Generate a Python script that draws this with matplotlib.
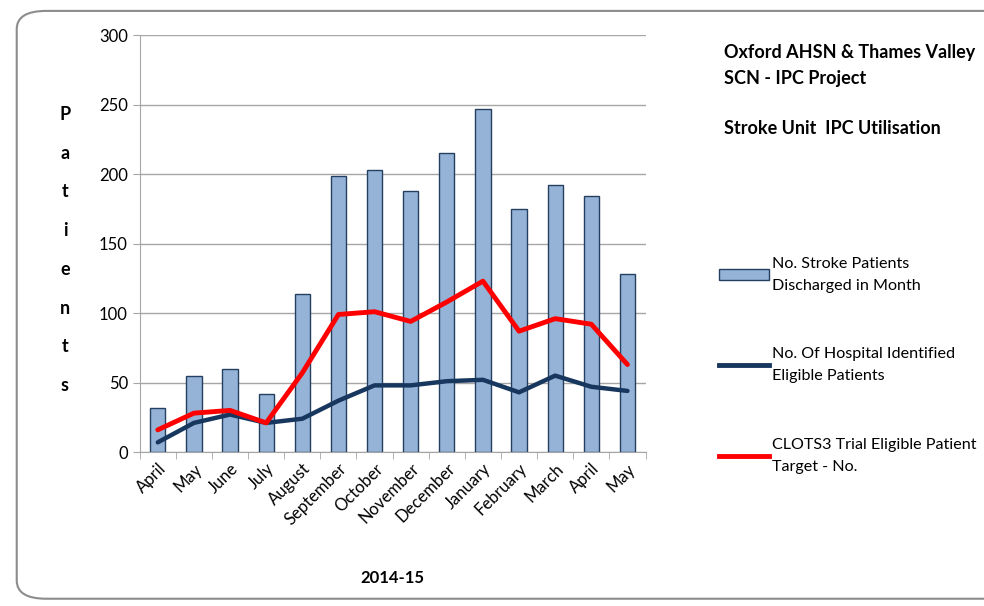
import numpy as np
import matplotlib.pyplot as plt
from matplotlib.patches import FancyBboxPatch
from matplotlib.lines import Line2D
from matplotlib.patches import Patch

plt.rcParams['font.family'] = ['Lato', 'DejaVu Sans']

months = ["April", "May", "June", "July", "August", "September", "October",
          "November", "December", "January", "February", "March", "April", "May"]
discharged = [32, 55, 60, 42, 114, 199, 203, 188, 215, 247, 175, 192, 184, 128]
identified = [7, 21, 27, 21, 24, 37, 48, 48, 51, 52, 43, 55, 47, 44]
target = [16, 28, 30, 21, 57, 99, 101, 94, 108, 123, 87, 96, 92, 63]

fig = plt.figure(figsize=(9.84, 6.06), dpi=100)
border = FancyBboxPatch((0.017, 0.012), 1.2, 0.97, boxstyle="round,pad=0,rounding_size=0.03",
                        transform=fig.transFigure, fill=False, edgecolor="#8c8c8c", linewidth=1.5)
fig.patches.append(border)

ax = fig.add_axes([0.142, 0.254, 0.514, 0.688])
x = np.arange(len(months))

ax.bar(x, discharged, width=0.42, color="#95B3D7", edgecolor="#243F60", linewidth=1, zorder=2)
ax.plot(x, identified, color="#17375E", linewidth=3.2, zorder=3, solid_capstyle="round")
ax.plot(x, target, color="#FF0000", linewidth=3.5, zorder=4, solid_capstyle="round")

ax.set_xlim(-0.5, len(months) - 0.5)
ax.set_ylim(0, 300)
ax.set_yticks(range(0, 301, 50))
ax.yaxis.grid(True, color="#a6a6a6", linewidth=1)
ax.set_axisbelow(True)
for s in ["top", "right"]:
    ax.spines[s].set_visible(False)
for s in ["left", "bottom"]:
    ax.spines[s].set_color("#a6a6a6")
ax.tick_params(axis="y", colors="#a6a6a6", length=5, labelcolor="black", labelsize=12)

ax.set_xticks(x)
ax.set_xticklabels(months, rotation=45, ha="right", rotation_mode="anchor", fontsize=12)
ax.tick_params(axis="x", length=0, pad=6)
ax.set_xticks(np.arange(-0.5, len(months), 1), minor=True)
ax.tick_params(axis="x", which="minor", length=5, color="#a6a6a6")

ax.set_xlabel("2014-15", fontweight="bold", fontsize=12, labelpad=30)
fig.text(0.066, 0.825, "P\na\nt\ni\ne\nn\nt\ns", fontweight="bold", fontsize=13,
         ha="center", va="top", linespacing=2.55)

fig.text(0.736, 0.927, "Oxford AHSN & Thames Valley\nSCN - IPC Project\n\nStroke Unit  IPC Utilisation",
         fontweight="bold", fontsize=13, ha="left", va="top", linespacing=1.6)

handles = [Patch(facecolor="#95B3D7", edgecolor="#243F60"),
           Line2D([0], [0], color="#17375E", linewidth=3.5),
           Line2D([0], [0], color="#FF0000", linewidth=3.5)]
labels = ["No. Stroke Patients\nDischarged in Month",
          "No. Of Hospital Identified\nEligible Patients",
          "CLOTS3 Trial Eligible Patient\nTarget - No."]
leg = fig.legend(handles, labels, loc="upper left", bbox_to_anchor=(0.716, 0.6), frameon=False,
                 fontsize=11.6, labelspacing=3.4, handlelength=3.1, handletextpad=0.2, handleheight=0.6)
for t in leg.get_texts():
    t.set_linespacing(1.7)

fig.savefig("out.png", dpi=100)
